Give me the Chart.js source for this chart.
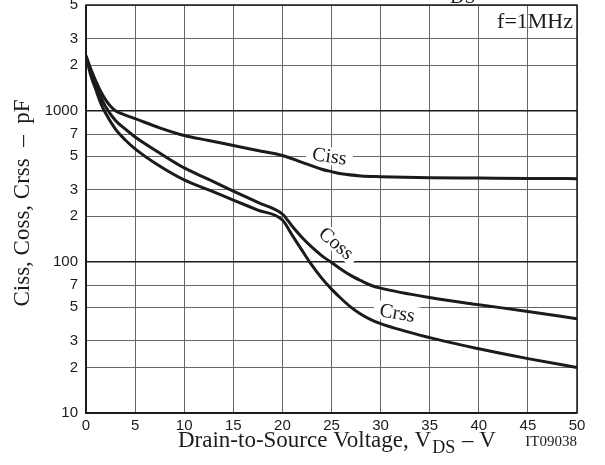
<!DOCTYPE html>
<html>
<head>
<meta charset="utf-8">
<script src="https://cdn.jsdelivr.net/npm/chart.js@4/dist/chart.umd.min.js"></script>
<style>
  html, body { margin: 0; padding: 0; background: #fff; }
  #wrap { width: 605px; height: 465px; }
</style>
</head>
<body>
<div id="wrap"><canvas id="c" width="605" height="465"></canvas></div>
<script>
// Capacitance vs drain-to-source voltage (f = 1 MHz)
const cissV = [0, 0.5, 1, 1.5, 2, 2.5, 3, 4, 5, 7.5, 10, 12.5, 15, 17.5, 20, 22, 24, 25, 26, 28, 30, 35, 40, 45, 50];
const cissPF = [2300, 1880, 1570, 1340, 1180, 1070, 1000, 935, 885, 770, 685, 635, 588, 545, 505, 455, 410, 395, 382, 370, 366, 360, 358, 356, 355];

const cossV = [0, 0.5, 1, 1.5, 2, 3, 4, 5, 7.5, 10, 12.5, 15, 17.5, 20, 21, 22, 23, 24, 25, 26, 27, 28, 29, 30, 35, 40, 45, 50];
const cossPF = [2300, 1800, 1480, 1230, 1060, 860, 755, 670, 525, 418, 351, 294, 247, 207, 172, 145, 125, 110, 99, 89, 81, 75, 70, 67, 58, 52, 47, 42];

const crssV = [0, 0.5, 1, 1.5, 2, 3, 4, 5, 7.5, 10, 12.5, 15, 17.5, 20, 21, 22, 23, 24, 25, 26, 27, 28, 29, 30, 35, 40, 45, 50];
const crssPF = [2300, 1700, 1380, 1120, 960, 755, 640, 559, 430, 348, 299, 256, 220, 189, 150, 119, 95, 78, 66, 57, 50, 45, 41.5, 39, 31.5, 26.6, 22.9, 20];

const yTickValues = [10, 20, 30, 50, 70, 100, 200, 300, 500, 700, 1000, 2000, 3000, 5000];
const yTickLabels = ['10', '2', '3', '5', '7', '100', '2', '3', '5', '7', '1000', '2', '3', '5'];
const yMajor = [100, 1000];

const curveLabels = [
  { text: 'Ciss', x: 24.8, y: 500, angle: 8 },
  { text: 'Coss', x: 25.5, y: 133, angle: 40 },
  { text: 'Crss', x: 31.7, y: 46, angle: 10 }
];

const ink = '#1b1b1b';
const serif = '"Liberation Serif", "Times New Roman", serif';
const sans = '"Liberation Sans", Arial, sans-serif';

const toPts = (xs, ys) => xs.map((v, i) => ({ x: v, y: ys[i] }));

const lineStyle = {
  borderColor: ink,
  borderWidth: 3,
  pointRadius: 0,
  fill: false,
  cubicInterpolationMode: 'monotone'
};

// Curve labels sit on white patches that break the grid, under the curves
const curveLabelPlugin = {
  id: 'curveLabels',
  beforeDatasetsDraw(chart) {
    const { ctx, scales: { x, y } } = chart;
    ctx.save();
    ctx.font = '20px ' + serif;
    ctx.textAlign = 'center';
    ctx.textBaseline = 'middle';
    curveLabels.forEach(l => {
      const px = x.getPixelForValue(l.x);
      const py = y.getPixelForValue(l.y);
      const w = ctx.measureText(l.text).width;
      ctx.save();
      ctx.translate(px, py);
      ctx.rotate(l.angle * Math.PI / 180);
      ctx.fillStyle = '#fff';
      ctx.fillRect(-w / 2 - 6, -9, w + 12, 18);
      ctx.fillStyle = ink;
      ctx.fillText(l.text, 0, 1);
      ctx.restore();
    });
    ctx.restore();
  }
};

// Frame, axis titles and notes
const decorPlugin = {
  id: 'decor',
  afterDraw(chart) {
    const { ctx, chartArea: a } = chart;
    ctx.save();
    ctx.strokeStyle = ink;
    ctx.lineWidth = 1.5;
    ctx.strokeRect(a.left, a.top, a.right - a.left, a.bottom - a.top);
    ctx.lineWidth = 2;
    ctx.beginPath();
    ctx.moveTo(a.left, a.top);
    ctx.lineTo(a.left, a.bottom);
    ctx.lineTo(a.right, a.bottom);
    ctx.stroke();

    ctx.fillStyle = ink;
    ctx.textBaseline = 'alphabetic';

    // frequency note
    ctx.font = '22px ' + serif;
    ctx.textAlign = 'right';
    ctx.fillText('f=1MHz', a.right - 4, 28);

    // clipped heading remnant at the top edge
    ctx.textAlign = 'left';
    ctx.font = '20px ' + serif;
    ctx.fillText('DS', 450, 3);

    // y title
    ctx.save();
    ctx.translate(29, 203);
    ctx.rotate(-Math.PI / 2);
    ctx.textAlign = 'center';
    ctx.font = '23px ' + serif;
    ctx.fillText('Ciss, Coss, Crss  \u2013  pF', 0, 0);
    ctx.restore();

    // x title with subscript
    const base = 447;
    const p1 = 'Drain-to-Source Voltage, V';
    const p3 = ' \u2013 V';
    ctx.font = '23px ' + serif;
    const w1 = ctx.measureText(p1).width;
    ctx.font = '18px ' + serif;
    const w2 = ctx.measureText('DS').width;
    const sx = 178;
    ctx.font = '23px ' + serif;
    ctx.fillText(p1, sx, base);
    ctx.font = '18px ' + serif;
    ctx.fillText('DS', sx + w1 + 1, base + 6);
    ctx.font = '23px ' + serif;
    ctx.fillText(p3, sx + w1 + w2 + 2, base);

    ctx.font = '15px ' + serif;
    ctx.textAlign = 'right';
    ctx.fillText('IT09038', a.right, base - 1);
    ctx.restore();
  }
};

new Chart(document.getElementById('c'), {
  type: 'line',
  data: {
    datasets: [
      Object.assign({ label: 'Ciss', data: toPts(cissV, cissPF) }, lineStyle),
      Object.assign({ label: 'Coss', data: toPts(cossV, cossPF) }, lineStyle),
      Object.assign({ label: 'Crss', data: toPts(crssV, crssPF) }, lineStyle)
    ]
  },
  options: {
    responsive: false,
    animation: false,
    layout: { padding: { top: 5, right: 28, left: 0, bottom: 0 } },
    plugins: { legend: { display: false }, tooltip: { enabled: false } },
    scales: {
      x: {
        type: 'linear',
        min: 0,
        max: 50,
        ticks: { stepSize: 5, color: ink, font: { family: sans, size: 15 }, padding: 4, maxRotation: 0 },
        grid: { color: '#666', lineWidth: 1, drawTicks: false },
        border: { display: false },
        afterFit(s) { s.height = 52; s.paddingLeft = 0; s.paddingRight = 0; }
      },
      y: {
        type: 'logarithmic',
        min: 10,
        max: 5000,
        afterBuildTicks(s) { s.ticks = yTickValues.map(v => ({ value: v })); },
        ticks: {
          color: ink,
          font: { family: sans, size: 15 },
          padding: 8,
          autoSkip: false,
          callback: (v, i) => yTickLabels[i]
        },
        grid: {
          drawTicks: false,
          color: c => yMajor.includes(c.tick && c.tick.value) ? '#1b1b1b' : '#666',
          lineWidth: c => yMajor.includes(c.tick && c.tick.value) ? 1.5 : 1
        },
        border: { display: false },
        afterFit(s) { s.width = 86; s.paddingTop = 0; s.paddingBottom = 0; }
      }
    }
  },
  plugins: [curveLabelPlugin, decorPlugin]
});
</script>
</body>
</html>
